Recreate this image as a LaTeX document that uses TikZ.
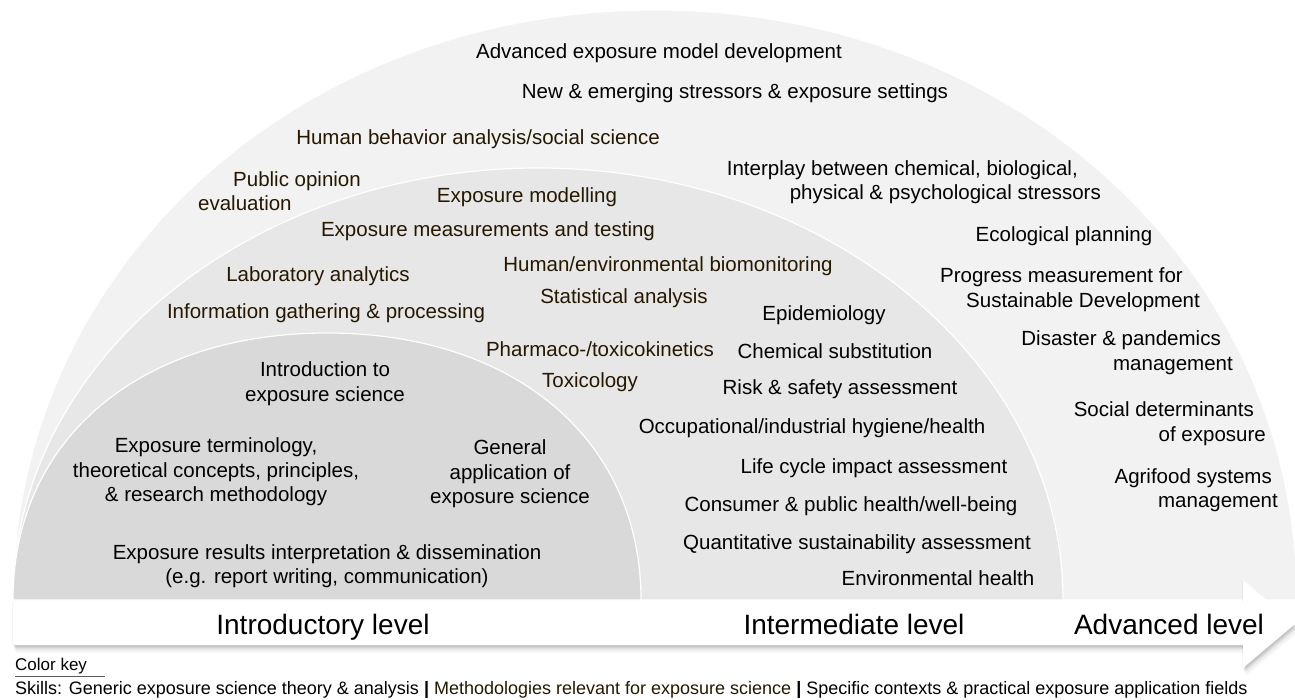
\documentclass[tikz,border=0pt]{standalone}
\usepackage{fontspec}
\setmainfont{Liberation Sans}
\definecolor{outerfill}{RGB}{242,242,242}
\definecolor{midfill}{RGB}{231,231,231}
\definecolor{innerfill}{RGB}{217,217,217}
\definecolor{methcol}{RGB}{38,24,0}
\definecolor{keyline}{RGB}{90,90,90}
\newcommand{\levelarrowpath}{(13,602) -- (1243,602) -- (1243,580) -- (1295,624) -- (1243,668) -- (1243,645) -- (13,645) -- cycle}
\begin{document}
\begin{tikzpicture}[x=1pt,y=-1pt,
  lbl/.style={inner sep=0pt, align=center, font=\fontsize{20.5}{24.5}\selectfont},
  meth/.style={lbl, text=methcol},
  ctx/.style={lbl, text=black},
  gen/.style={lbl, text=black},
  lvl/.style={inner sep=0pt, anchor=base, font=\fontsize{28}{32}\selectfont},
  keytext/.style={inner sep=0pt, anchor=west, font=\fontsize{17}{20}\selectfont},
  band/.style={draw=white, line width=1.2pt}]
\useasboundingbox (0,0) rectangle (1295,700);
\fill[white] (0,0) rectangle (1295,700);

% nested arcs
\path[band, fill=outerfill] (13,600) .. controls (13,270) and (295,10) .. (655,10)
  .. controls (1015,10) and (1297,270) .. (1297,600) -- cycle;
\path[band, fill=midfill] (13,600) .. controls (13,362) and (249,168) .. (538,168)
  .. controls (827,168) and (1063,362) .. (1063,600) -- cycle;
\path[band, fill=innerfill] (13,600) .. controls (13,440) and (139,333) .. (327,333)
  .. controls (515,333) and (641,440) .. (641,600) -- cycle;

% soft shadow of the level arrow
\foreach \d/\o in {8/0.03,6/0.04,4/0.05,3/0.05,2/0.05,1/0.04} {
  \fill[black, opacity=\o, shift={(0.4*\d,\d)}] \levelarrowpath;
}
\fill[black, opacity=0.04, shift={(-1,0)}] \levelarrowpath;
% level arrow
\fill[white] \levelarrowpath;

% outer ring
\node[ctx] (amd) at (659,53) {Advanced exposure model development};
\node[ctx] (nes) at (735,93) {New \& emerging stressors \& exposure settings};
\node[meth] (hba) at (478,139) {Human behavior analysis/social science};
\node[meth, align=left, anchor=west] (poe) at (198,191) {\hspace*{35pt}Public opinion\\evaluation};
\node[ctx, align=right, anchor=east] (ipl) at (1101,182) {Interplay between chemical, biological,\hspace*{23pt}\\physical \& psychological stressors};
\node[ctx] (eco) at (1064,236) {Ecological planning};
\node[ctx, align=right, anchor=east] (psd) at (1200,289.5) {Progress measurement for\hspace*{17pt}\\Sustainable Development};
\node[ctx, align=right, anchor=east] (dpm) at (1233,352.5) {Disaster \& pandemics\hspace*{12pt}\\management};
\node[ctx, align=right, anchor=east] (sde) at (1266,423.5) {Social determinants\hspace*{12pt}\\of exposure};
\node[ctx, align=right, anchor=east] (asm) at (1278,490) {Agrifood systems\hspace*{6pt}\\management};

% middle ring
\node[meth] (emo) at (527,197) {Exposure modelling};
\node[meth] (emt) at (488,231) {Exposure measurements and testing};
\node[meth] (lab) at (318,276) {Laboratory analytics};
\node[meth] (heb) at (668,266) {Human/environmental biomonitoring};
\node[meth] (igp) at (326,313) {Information gathering \& processing};
\node[meth] (sta) at (624,298) {Statistical analysis};
\node[ctx] (epi) at (824,315) {Epidemiology};
\node[meth] (pha) at (600,349) {Pharmaco-/toxicokinetics};
\node[ctx] (chs) at (835,351) {Chemical substitution};
\node[meth] (tox) at (590,382) {Toxicology};
\node[ctx] (rsa) at (840,389) {Risk \& safety assessment};
\node[ctx] (oih) at (812,428) {Occupational/industrial hygiene/health};
\node[ctx] (lca) at (874,468) {Life cycle impact assessment};
\node[ctx] (cph) at (851,506) {Consumer \& public health/well-being};
\node[ctx] (qsa) at (857,544) {Quantitative sustainability assessment};
\node[ctx] (env) at (938,578) {Environmental health};

% inner ring
\node[gen] (ies) at (325,383.5) {Introduction to\\exposure science};
\node[gen] (etc) at (216,472) {Exposure terminology,\\theoretical concepts, principles,\\\& research methodology};
\node[gen] (gae) at (510,474) {General\\application of\\exposure science};
\node[gen] (erd) at (327,566) {Exposure results interpretation \& dissemination\\(e.g. report writing, communication)};

% levels
\node[lvl] (lv1) at (323,634) {Introductory level};
\node[lvl] (lv2) at (854,634) {Intermediate level};
\node[lvl] (lv3) at (1169,634) {Advanced level};

% colour key
\node[keytext] (ck) at (15,666) {Color key};
\draw[keyline, line width=0.7pt] (ck.south west) ++(0,2) -- ++(90,0);
\node[keytext, font=\fontsize{18}{21}\selectfont] (kl) at (15,690) {Skills: Generic exposure science theory \& analysis {\bfseries|} \textcolor{methcol}{Methodologies relevant for exposure science} {\bfseries|} Specific contexts \& practical exposure application fields};
\end{tikzpicture}
\end{document}
